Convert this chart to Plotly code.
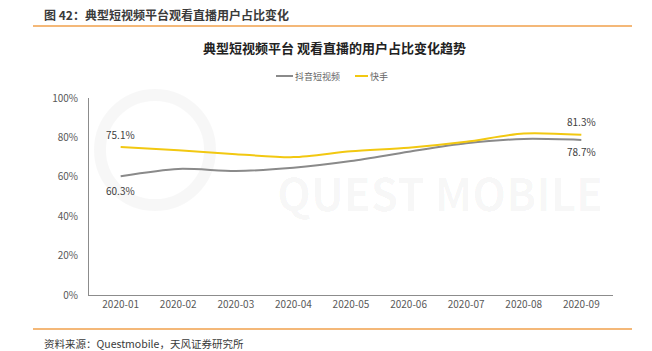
import plotly.graph_objects as go

months = ["2020-01", "2020-02", "2020-03", "2020-04", "2020-05", "2020-06", "2020-07", "2020-08", "2020-09"]
douyin = [60.3, 64.0, 63.0, 64.6, 68.0, 72.7, 77.0, 79.2, 78.7]
kuaishou = [75.1, 73.5, 71.5, 70.0, 73.0, 74.8, 77.8, 82.0, 81.3]
y_ticks = [0, 20, 40, 60, 80, 100]
y_tick_labels = ["0%", "20%", "40%", "60%", "80%", "100%"]

GRAY = "#8a8a8a"
YELLOW = "#f2c811"
FONT = "Noto Sans CJK SC"

fig = go.Figure()
fig.add_trace(go.Scatter(x=months, y=douyin, mode="lines", name="抖音短视频",
                         line=dict(color=GRAY, width=2, shape="spline", smoothing=0.8)))
fig.add_trace(go.Scatter(x=months, y=kuaishou, mode="lines", name="快手",
                         line=dict(color=YELLOW, width=2, shape="spline", smoothing=0.8)))

W, H = 652, 351
ml, mr, mt, mb = 89, 39, 98, 56
plot_w = W - ml - mr
plot_h = H - mt - mb

def sx(x):
    return (x - ml) / plot_w
def sy(y):
    return (H - mb - y) / plot_h

ann = []
lab_font = dict(family=FONT, size=10, color="#404040")
ann.append(dict(x=months[0], y=kuaishou[0], text=f"{kuaishou[0]}%", showarrow=False, yshift=13, font=lab_font))
ann.append(dict(x=months[0], y=douyin[0], text=f"{douyin[0]}%", showarrow=False, yshift=-14, font=lab_font))
ann.append(dict(x=months[-1], y=kuaishou[-1], text=f"{kuaishou[-1]}%", showarrow=False, yshift=13, font=lab_font))
ann.append(dict(x=months[-1], y=douyin[-1], text=f"{douyin[-1]}%", showarrow=False, yshift=-12, font=lab_font))

paper_anns = [
    dict(x=440, y=192, text="<b>QUEST MOBILE</b>", size=44, color="rgba(0,0,0,0.035)", xanchor="center"),
    dict(x=42, y=14, text="<b>图 42：典型短视频平台观看直播用户占比变化</b>", size=12, color="#3a3a3a", xanchor="left"),
    dict(x=42, y=343, text="资料来源：Questmobile，天风证券研究所", size=10.5, color="#3a3a3a", xanchor="left"),
    dict(x=334, y=48, text="<b>典型短视频平台 观看直播的用户占比变化趋势</b>", size=13, color="#222222", xanchor="center"),
    dict(x=293, y=76, text="抖音短视频", size=9, color="#666666", xanchor="left"),
    dict(x=368, y=76, text="快手", size=9, color="#666666", xanchor="left"),
]
for a in paper_anns:
    ann.append(dict(xref="paper", yref="paper",
                    x=sx(a["x"]), y=sy(a["y"]),
                    text=a["text"], showarrow=False, xanchor=a["xanchor"], yanchor="middle",
                    font=dict(family=FONT, size=a["size"], color=a["color"])))

shapes = [
    dict(type="line", xref="paper", yref="paper", x0=sx(33), x1=sx(632), y0=sy(26), y1=sy(26),
         line=dict(color="#f0a04b", width=1.5)),
    dict(type="line", xref="paper", yref="paper", x0=sx(33), x1=sx(632), y0=sy(329), y1=sy(329),
         line=dict(color="#f0a04b", width=1.5)),
    dict(type="line", xref="paper", yref="paper", x0=sx(276), x1=sx(293), y0=sy(76), y1=sy(76),
         line=dict(color=GRAY, width=2)),
    dict(type="line", xref="paper", yref="paper", x0=sx(355), x1=sx(368), y0=sy(76), y1=sy(76),
         line=dict(color=YELLOW, width=2)),
    dict(type="circle", xref="paper", yref="paper", x0=sx(100), x1=sx(210), y0=sy(95), y1=sy(205),
         line=dict(color="rgba(0,0,0,0.03)", width=12), layer="below"),
]

fig.update_layout(
    width=W, height=H,
    margin=dict(l=ml, r=mr, t=mt, b=mb),
    paper_bgcolor="white", plot_bgcolor="white",
    showlegend=False,
    font=dict(family=FONT, size=10, color="#595959"),
    xaxis=dict(type="category", range=[-0.55, 8.55], showgrid=False, zeroline=False,
               showline=True, linecolor="#8c8c8c", linewidth=1, ticks="",
               tickfont=dict(family=FONT, size=10, color="#595959"), fixedrange=True),
    yaxis=dict(range=[0, 100], tickvals=y_ticks, ticktext=y_tick_labels, showgrid=False,
               zeroline=False, showline=True, linecolor="#8c8c8c", linewidth=1, ticks="",
               ticklabelstandoff=8,
               tickfont=dict(family=FONT, size=10, color="#595959"), fixedrange=True),
    annotations=ann,
    shapes=shapes,
)

fig.write_html("out.html")
